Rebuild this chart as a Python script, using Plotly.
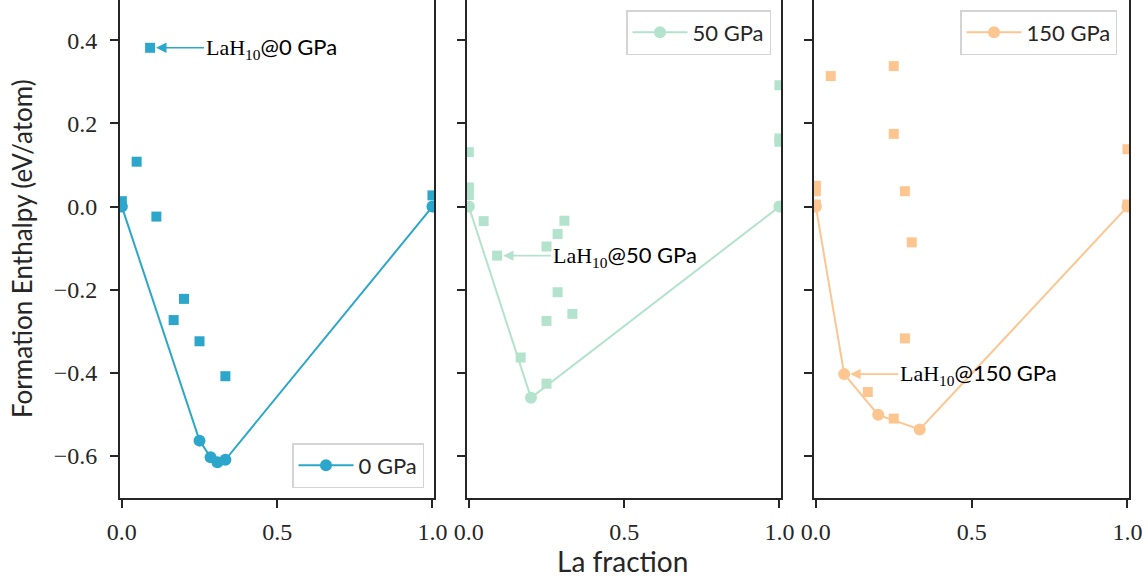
import plotly.graph_objects as go

# La-H convex hulls: La fraction vs formation enthalpy (eV/atom)
pressures = ["0 GPa", "50 GPa", "150 GPa"]
colors = ["#2ca7cb", "#b3e3cc", "#fdc58f"]

# 0 GPa
hull_x_0 = [0.0, 0.25, 0.2857, 0.3077, 0.3333, 1.0]
hull_y_0 = [0.0, -0.563, -0.603, -0.615, -0.609, 0.0]
other_x_0 = [0.0, 0.0476, 0.0909, 0.1111, 0.1667, 0.2, 0.25, 0.3333, 1.0]
other_y_0 = [0.013, 0.108, 0.382, -0.024, -0.273, -0.222, -0.324, -0.408, 0.027]

# 50 GPa
hull_x_50 = [0.0, 0.2, 1.0]
hull_y_50 = [0.0, -0.46, 0.0]
other_x_50 = [0.0, 0.0, 0.0, 0.0476, 0.0909, 0.1667, 0.25, 0.25, 0.25,
              0.2857, 0.2857, 0.3077, 0.3333, 1.0, 1.0, 1.0]
other_y_50 = [0.131, 0.046, 0.028, -0.035, -0.118, -0.363, -0.096, -0.275, -0.426,
              -0.066, -0.206, -0.034, -0.258, 0.292, 0.164, 0.156]

# 150 GPa
hull_x_150 = [0.0, 0.0909, 0.2, 0.3333, 1.0]
hull_y_150 = [0.0, -0.403, -0.501, -0.536, 0.0]
other_x_150 = [0.0, 0.0, 0.0, 0.0476, 0.1667, 0.25, 0.25, 0.25,
               0.2857, 0.2857, 0.3077, 1.0, 1.0]
other_y_150 = [0.05, 0.037, 0.005, 0.314, -0.446, 0.338, 0.175, -0.51,
               0.037, -0.317, -0.086, 0.138, 0.005]

# LaH10 (x = 1/11) highlighted in each panel
lah10_x = [0.0909, 0.0909, 0.0909]
lah10_y = [0.382, -0.118, -0.403]

x_ticks = [0.0, 0.5, 1.0]
y_ticks = [-0.6, -0.4, -0.2, 0.0, 0.2, 0.4]

panels = [
    (hull_x_0, hull_y_0, other_x_0, other_y_0),
    (hull_x_50, hull_y_50, other_x_50, other_y_50),
    (hull_x_150, hull_y_150, other_x_150, other_y_150),
]

W, H = 1148, 583
SANS = "Lato"
SERIF = "Liberation Serif"
INK = "#262626"

x_domains = [[120 / W, 434 / W], [467 / W, 781 / W], [814 / W, 1129 / W]]
y_domain = [1 - 498 / H, 1.0]

fig = go.Figure()
legend_names = ["legend", "legend2", "legend3"]

for i, (hx, hy, ox, oy) in enumerate(panels):
    suffix = "" if i == 0 else str(i + 1)
    fig.add_trace(go.Scatter(
        x=ox, y=oy, mode="markers",
        marker=dict(symbol="square", size=10, color=colors[i]),
        showlegend=False, hoverinfo="skip",
        xaxis="x" + suffix, yaxis="y" + suffix,
    ))
    fig.add_trace(go.Scatter(
        x=hx, y=hy, mode="lines+markers", name=pressures[i],
        line=dict(color=colors[i], width=2),
        marker=dict(symbol="circle", size=12, color=colors[i]),
        legend=legend_names[i],
        xaxis="x" + suffix, yaxis="y" + suffix,
    ))

axis_common = dict(
    showline=True, mirror=True, linecolor=INK, linewidth=1.8,
    ticks="outside", ticklen=8, tickwidth=1.5, tickcolor=INK,
    showgrid=False, zeroline=False, automargin=False,
    tickfont=dict(family=SERIF, size=24, color=INK),
)

layout = dict(
    width=W, height=H,
    margin=dict(l=0, r=0, t=0, b=0, autoexpand=False),
    paper_bgcolor="white", plot_bgcolor="white",
)
for i in range(3):
    suffix = "" if i == 0 else str(i + 1)
    layout["xaxis" + suffix] = dict(
        axis_common, domain=x_domains[i], range=[-0.006, 1.005],
        tickvals=x_ticks, ticktext=[f"{v:.1f}" for v in x_ticks],
        anchor="y" + suffix, ticklabelstandoff=3,
    )
    layout["yaxis" + suffix] = dict(
        axis_common, domain=y_domain, range=[-0.701, 0.497],
        tickvals=y_ticks,
        ticktext=[f"{v:.1f}".replace("-", "\u2212") for v in y_ticks],
        showticklabels=(i == 0), anchor="x" + suffix, ticklabelstandoff=8,
    )

legend_style = dict(
    bgcolor="white", bordercolor="#d4d4d4", borderwidth=1.5,
    font=dict(family=SANS, size=22, color=INK), itemwidth=55,
)
layout["legend"] = dict(legend_style, x=424 / W, y=1 - 488 / H,
                        xanchor="right", yanchor="bottom")
layout["legend2"] = dict(legend_style, x=771 / W, y=1 - 10 / H,
                         xanchor="right", yanchor="top")
layout["legend3"] = dict(legend_style, x=1117 / W, y=1 - 10 / H,
                         xanchor="right", yanchor="top")

fig.update_layout(**layout)

# LaH10 labels with arrows
for i in range(3):
    suffix = "" if i == 0 else str(i + 1)
    label = (f"<span style='font-family:{SERIF}'>LaH<sub>10</sub></span>"
             f"@{pressures[i]}")
    fig.add_annotation(
        x=lah10_x[i], y=lah10_y[i], xref="x" + suffix, yref="y" + suffix,
        text=label, showarrow=True, ax=54, ay=0,
        xanchor="left", yanchor="middle",
        arrowhead=2, arrowsize=1.3, arrowwidth=1.6, arrowcolor=colors[i],
        standoff=6,
        font=dict(family=SANS, size=22, color="black"),
    )

# shared axis titles
fig.add_annotation(
    text="La fraction", xref="paper", yref="paper",
    x=622 / W, y=1 - 561 / H, showarrow=False,
    xanchor="center", yanchor="middle",
    font=dict(family=SANS, size=28, color=INK),
)
fig.add_annotation(
    text="Formation Enthalpy (eV/atom)", xref="paper", yref="paper",
    x=22 / W, y=1 - 249 / H, showarrow=False, textangle=-90,
    xanchor="center", yanchor="middle",
    font=dict(family=SANS, size=26, color=INK),
)

fig.write_html("out.html")
